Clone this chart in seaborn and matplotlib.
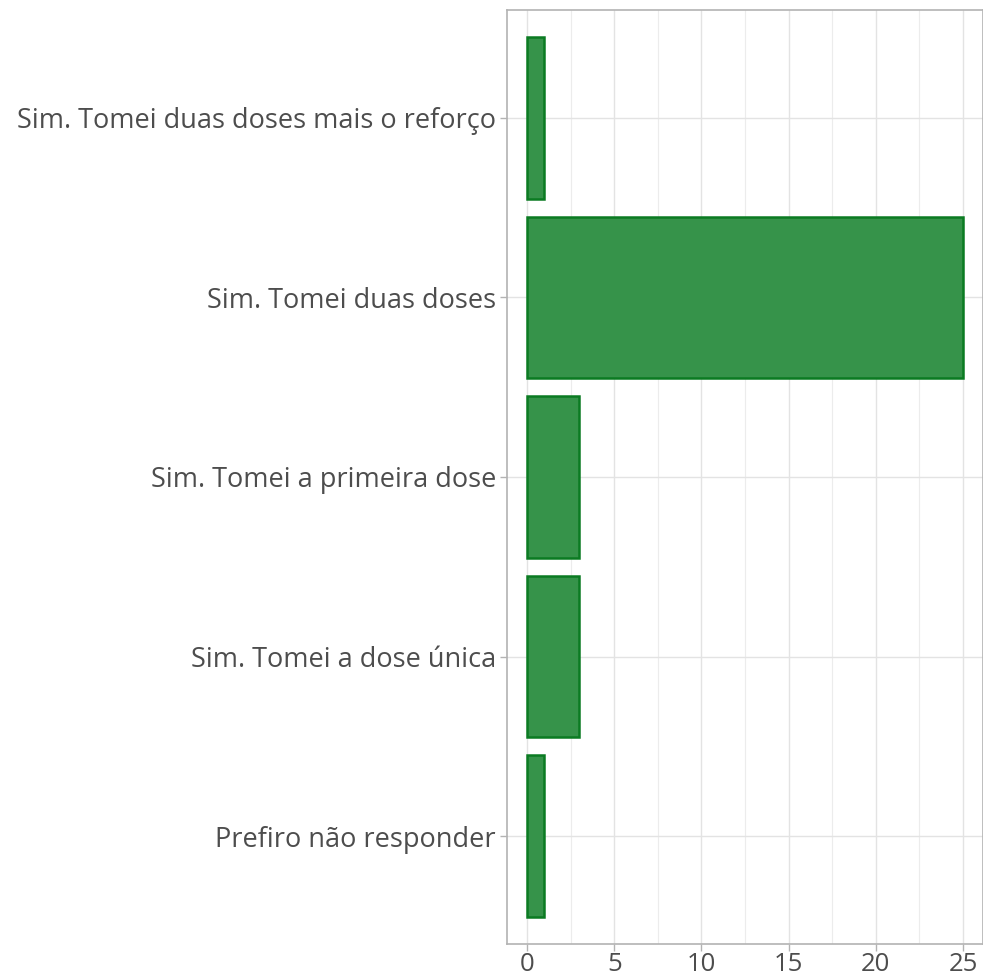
import matplotlib
matplotlib.use("Agg")
import matplotlib.pyplot as plt
import seaborn as sns
import pandas as pd
from matplotlib.ticker import MultipleLocator

categories = ["Sim. Tomei duas doses mais o reforço", "Sim. Tomei duas doses",
              "Sim. Tomei a primeira dose", "Sim. Tomei a dose única",
              "Prefiro não responder"]
counts = [1, 25, 3, 3, 1]

sns.set_theme(style="white")
plt.rcParams['font.family'] = ['Open Sans', 'DejaVu Sans']

df = pd.DataFrame({"cat": categories, "n": counts})
fig = plt.figure(figsize=(9.83, 9.77), dpi=100)
ax = fig.add_axes([507/983, 1-944/977, 1-507/983, (944-10)/977])
sns.barplot(data=df, y="cat", x="n", order=categories, orient="h", ax=ax,
            color="#36934a", edgecolor="#0b7b22", linewidth=1.8, width=0.9,
            saturation=1)
ax.set_xlim(-1.15, 26.15)
ax.set_ylim(4.6, -0.6)
ax.xaxis.set_major_locator(MultipleLocator(5))
ax.xaxis.set_minor_locator(MultipleLocator(2.5))
ax.grid(True, which="major", color="#e3e3e3", linewidth=1.0)
ax.grid(True, which="minor", axis="x", color="#ececec", linewidth=0.8)
ax.set_axisbelow(True)
for s in ax.spines.values():
    s.set_color("#b3b3b3")
    s.set_linewidth(1.2)
ax.tick_params(axis="y", which="major", length=5, width=1, color="#b3b3b3",
               labelsize=19.5, labelcolor="#4d4d4d", pad=3, left=True)
ax.tick_params(axis="x", which="major", length=5, width=1, color="#b3b3b3",
               labelsize=18.5, labelcolor="#4d4d4d", pad=1, bottom=True)
ax.tick_params(axis="x", which="minor", length=0)
ax.set_xlabel("")
ax.set_ylabel("")
fig.savefig("out.png", dpi=100)
